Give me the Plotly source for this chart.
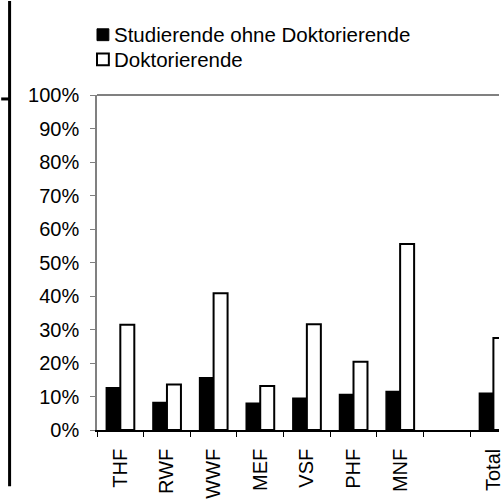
import plotly.graph_objects as go

categories = ["THF", "RWF", "WWF", "MEF", "VSF", "PHF", "MNF", " ", "Total"]
studierende = [12.6, 8.2, 15.6, 8.0, 9.5, 10.6, 11.5, None, 11.0]
doktorierende = [31.4, 13.6, 40.8, 13.1, 31.6, 20.4, 55.5, None, 27.5]
legend_labels = ["Studierende ohne Doktorierende", "Doktorierende"]
y_tick_values = [0, 10, 20, 30, 40, 50, 60, 70, 80, 90, 100]
y_tick_labels = ["0%", "10%", "20%", "30%", "40%", "50%", "60%", "70%", "80%", "90%", "100%"]

W, H = 504, 499
L, R, T, B = 97, 0, 95, 65
FONT = "Liberation Sans, Arial, sans-serif"

def px_x(px):
    return (px - L) / (W - L - R)

def px_y(py):
    return (H - B - py) / (H - T - B)

fig = go.Figure()
fig.add_trace(go.Bar(x=categories, y=studierende, name=legend_labels[0],
                     marker=dict(color="black", line=dict(color="black", width=1.5))))
fig.add_trace(go.Bar(x=categories, y=doktorierende, name=legend_labels[1],
                     marker=dict(color="white", line=dict(color="black", width=2))))

ROW1, ROW2 = 34, 59
shapes = [
    # top border of plot area (gray)
    dict(type="line", xref="paper", yref="paper", x0=0, x1=1, y0=1, y1=1,
         line=dict(color="#808080", width=2)),
    # left frame artifacts
    dict(type="line", xref="paper", yref="paper", x0=px_x(8.5), x1=px_x(8.5),
         y0=px_y(0), y1=px_y(491), line=dict(color="black", width=3)),
    dict(type="line", xref="paper", yref="paper", x0=px_x(0), x1=px_x(8.5),
         y0=px_y(99), y1=px_y(99), line=dict(color="black", width=3)),
    # legend symbols
    dict(type="rect", xref="paper", yref="paper", x0=px_x(97), x1=px_x(109),
         y0=px_y(ROW1 + 6), y1=px_y(ROW1 - 6), fillcolor="black",
         line=dict(color="black", width=1)),
    dict(type="rect", xref="paper", yref="paper", x0=px_x(97), x1=px_x(109),
         y0=px_y(ROW2 + 6), y1=px_y(ROW2 - 6), fillcolor="white",
         line=dict(color="black", width=2)),
]
annotations = [
    dict(xref="paper", yref="paper", x=px_x(112), y=px_y(ROW1), text=legend_labels[0],
         showarrow=False, xanchor="left", yanchor="middle",
         font=dict(family=FONT, size=20.5, color="black")),
    dict(xref="paper", yref="paper", x=px_x(112), y=px_y(ROW2), text=legend_labels[1],
         showarrow=False, xanchor="left", yanchor="middle",
         font=dict(family=FONT, size=20.5, color="black")),
]

fig.update_layout(
    width=W, height=H,
    margin=dict(l=L, r=R, t=T, b=B, pad=0),
    paper_bgcolor="white", plot_bgcolor="white",
    barmode="group", bargap=0.4, bargroupgap=0,
    showlegend=False,
    font=dict(family=FONT, size=20, color="black"),
    shapes=shapes, annotations=annotations,
    xaxis=dict(type="category", categoryorder="array", categoryarray=categories,
               range=[-0.5, 8.12], tickson="boundaries", ticks="outside", ticklen=5,
               tickcolor="black", tickwidth=1, showline=True, linecolor="black",
               linewidth=1.5, tickangle=-90, showgrid=False, zeroline=False,
               ticklabelstandoff=9,
               tickfont=dict(family=FONT, size=20, color="black")),
    yaxis=dict(range=[0, 100], tickmode="array", tickvals=y_tick_values,
               ticktext=y_tick_labels, ticks="outside",
               ticklen=5, tickcolor="#808080", showline=True, linecolor="#808080",
               linewidth=1.5, showgrid=False, zeroline=False, ticklabelstandoff=7,
               tickfont=dict(family=FONT, size=20, color="black")),
)

fig.write_html("out.html", config={"displayModeBar": False},
               post_script="document.body.style.margin='0';document.body.style.overflow='hidden';")
